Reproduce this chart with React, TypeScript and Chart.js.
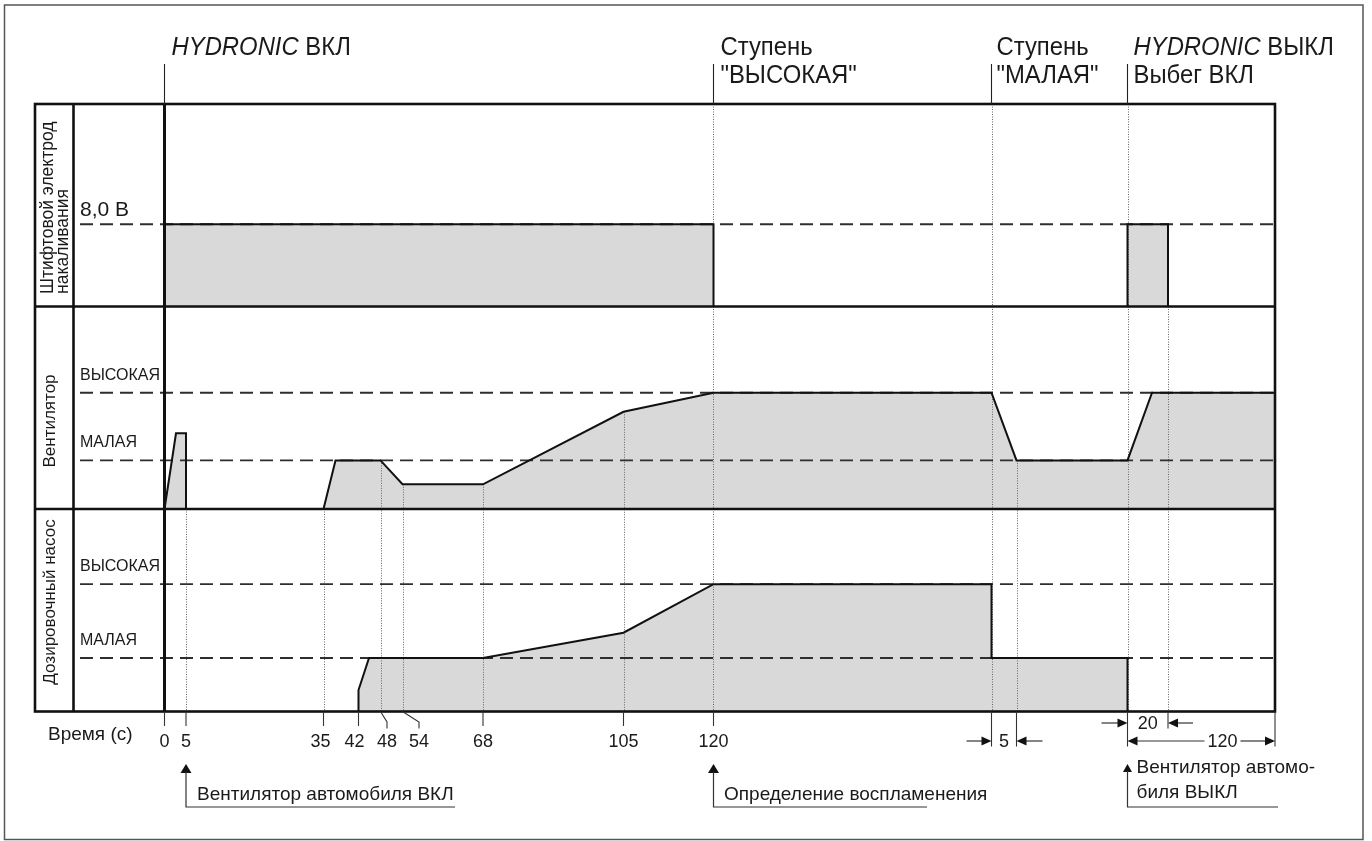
import React, { useEffect, useRef } from 'react';
import { Chart, registerables } from 'chart.js';

Chart.register(...registerables);

// ---- schematic (non-linear) time axis: tick labels and their axis positions ----
const tickLabels = ['0', '5', '35', '42', '48', '54', '68', '105', '120'];
const tickPos = [0, 21.5, 159, 194, 216, 238, 318.5, 459, 549];
const tickLabelShift = [0, 0, -3, -4, 6.5, 16.5, 0, 0, 0];
const tickHasLeader = [false, false, false, false, true, true, false, false, false];

// later events on the axis (after the break)
const posLowStage = 827;   // switch to "МАЛАЯ"
const posLowDone = 852;    // +5 s
const posOff = 963;        // HYDRONIC ВЫКЛ
const posGlowEnd = 1003.5; // +20 s
const posRunEnd = 1110.5;  // +120 s
const axisMin = -129.5;
const labelColumnPos = -91;
const levelLabelPos = -84.5;

// ---- series (level inside its own panel, 0 = panel floor) ----
const glowX = [0, 0, 549, 549];
const glowLevel = [0, 0.406, 0.406, 0];
const glowRunX = [963, 963, 1003.5, 1003.5];
const glowRunLevel = [0, 0.406, 0.406, 0];

const fanStartX = [0, 11.5, 21.5, 21.5];
const fanStartLevel = [0, 0.374, 0.374, 0];
const fanX = [159, 171, 216, 238, 318.5, 459, 549, 827, 852, 963, 987.5, 1110.5];
const fanLevel = [0, 0.24, 0.24, 0.122, 0.122, 0.48, 0.574, 0.574, 0.24, 0.24, 0.574, 0.574];

const pumpX = [194, 194, 204.5, 318.5, 459, 549, 827, 827, 963, 963];
const pumpLevel = [0, 0.106, 0.264, 0.264, 0.389, 0.629, 0.629, 0.264, 0.264, 0];

// panel floors and reference levels
const glowBase = 2;
const fanBase = 1;
const pumpBase = 0;
const glowRefLevels = [0.406];
const fanRefLevels = [0.574, 0.24];
const pumpRefLevels = [0.629, 0.264];
const glowRefLabels = ['8,0 В'];
const fanRefLabels = ['ВЫСОКАЯ', 'МАЛАЯ'];
const pumpRefLabels = ['ВЫСОКАЯ', 'МАЛАЯ'];

// dotted event markers: [position, from (y), to (y)]
const dottedMarks: [number, number, number][] = [
  [21.5, 1, 0],
  [159, 1, 0],
  [216, 1.24, 0],
  [238, 1.122, 0],
  [318.5, 1.122, 0],
  [459, 1.48, 0],
  [549, 3, 0],
  [827, 3, 0],
  [852, 1.24, 0],
  [963, 3, 0],
  [1003.5, 2, 0],
];

const FONT = '"Liberation Sans", Arial, Helvetica, sans-serif';
const INK = '#1a1a1a';

function txt(ctx: CanvasRenderingContext2D, s: string, x: number, y: number, size: number, align: CanvasTextAlign = 'left', italic = false, sx = 1) {
  ctx.save();
  ctx.translate(x, y);
  ctx.scale(sx, 1);
  ctx.font = `${italic ? 'italic ' : ''}${size}px ${FONT}`;
  ctx.fillStyle = INK;
  ctx.textAlign = align;
  ctx.textBaseline = 'alphabetic';
  ctx.fillText(s, 0, 0);
  ctx.restore();
}

function tw(ctx: CanvasRenderingContext2D, s: string, size: number, italic = false, sx = 1) {
  ctx.save();
  ctx.font = `${italic ? 'italic ' : ''}${size}px ${FONT}`;
  const w = ctx.measureText(s).width * sx;
  ctx.restore();
  return w;
}

function rtxt(ctx: CanvasRenderingContext2D, s: string, x: number, y: number, size: number, align: CanvasTextAlign) {
  ctx.save();
  ctx.translate(x, y);
  ctx.rotate(-Math.PI / 2);
  ctx.font = `${size}px ${FONT}`;
  ctx.fillStyle = INK;
  ctx.textAlign = align;
  ctx.textBaseline = 'middle';
  ctx.fillText(s, 0, 0);
  ctx.restore();
}

function line(ctx: CanvasRenderingContext2D, pts: number[][], w = 1.2, color = '#333') {
  ctx.save();
  ctx.strokeStyle = color;
  ctx.lineWidth = w;
  ctx.beginPath();
  ctx.moveTo(pts[0][0], pts[0][1]);
  for (let i = 1; i < pts.length; i++) ctx.lineTo(pts[i][0], pts[i][1]);
  ctx.stroke();
  ctx.restore();
}

// dir: 'r','l','u'
function head(ctx: CanvasRenderingContext2D, x: number, y: number, dir: string, len = 10, half = 4.5) {
  ctx.save();
  ctx.fillStyle = '#111';
  ctx.beginPath();
  ctx.moveTo(x, y);
  if (dir === 'r') { ctx.lineTo(x - len, y - half); ctx.lineTo(x - len, y + half); }
  if (dir === 'l') { ctx.lineTo(x + len, y - half); ctx.lineTo(x + len, y + half); }
  if (dir === 'u') { ctx.lineTo(x - half, y + len); ctx.lineTo(x + half, y + len); }
  ctx.closePath();
  ctx.fill();
  ctx.restore();
}

const CAP = 26.5;  // caption font size
const CAPX = 0.9;  // caption horizontal condensing

const diagramPlugin = {
  id: 'diagram',
  beforeDatasetsDraw(chart: any) {
    const ctx: CanvasRenderingContext2D = chart.ctx;
    const X = (v: number) => chart.scales.x.getPixelForValue(v);
    const Y = (v: number) => chart.scales.y.getPixelForValue(v);
    const { right } = chart.chartArea;
    // dotted markers
    ctx.save();
    ctx.strokeStyle = '#666';
    ctx.lineWidth = 1;
    ctx.setLineDash([1, 1.5]);
    dottedMarks.forEach(([p, a, b]) => {
      const x = Math.round(X(p)) + 0.5;
      ctx.beginPath();
      ctx.moveTo(x, Y(a));
      ctx.lineTo(x, Y(b));
      ctx.stroke();
    });
    ctx.restore();
    // dashed reference levels
    ctx.save();
    ctx.strokeStyle = '#2e2e2e';
    ctx.lineWidth = 1.9;
    ctx.setLineDash([13, 7]);
    const groups: [number, number[]][] = [[glowBase, glowRefLevels], [fanBase, fanRefLevels], [pumpBase, pumpRefLevels]];
    groups.forEach(([base, lv]) => {
      lv.forEach((l) => {
        const y = Y(base + l);
        ctx.beginPath();
        ctx.moveTo(X(levelLabelPos), y);
        ctx.lineTo(right, y);
        ctx.stroke();
      });
    });
    ctx.restore();
  },
  afterDatasetsDraw(chart: any) {
    const ctx: CanvasRenderingContext2D = chart.ctx;
    const X = (v: number) => chart.scales.x.getPixelForValue(v);
    const Y = (v: number) => chart.scales.y.getPixelForValue(v);
    const { left, right, top, bottom } = chart.chartArea;

    // outer frame
    ctx.save();
    ctx.strokeStyle = '#555';
    ctx.lineWidth = 1.5;
    ctx.strokeRect(4.5, 5, 1358.5, 834.5);
    ctx.restore();

    // box and separators
    ctx.save();
    ctx.strokeStyle = '#111';
    ctx.lineWidth = 2.6;
    ctx.strokeRect(left, top, right - left, bottom - top);
    [Y(2), Y(1)].forEach((y) => {
      ctx.beginPath(); ctx.moveTo(left, y); ctx.lineTo(right, y); ctx.stroke();
    });
    ctx.beginPath(); ctx.moveTo(X(labelColumnPos), top); ctx.lineTo(X(labelColumnPos), bottom); ctx.stroke();
    ctx.lineWidth = 3;
    ctx.beginPath(); ctx.moveTo(X(0), top); ctx.lineTo(X(0), bottom); ctx.stroke();
    ctx.restore();

    // thin event lines above the box
    [0, 549, posLowStage, posOff].forEach((p) => line(ctx, [[X(p), 64], [X(p), top]], 1.1, '#222'));

    // top captions
    const wH = tw(ctx, 'HYDRONIC', CAP, true, CAPX);
    txt(ctx, 'HYDRONIC', X(0) + 7, 55, CAP, 'left', true, CAPX);
    txt(ctx, ' ВКЛ', X(0) + 7 + wH, 55, CAP, 'left', false, CAPX);
    txt(ctx, 'Ступень', X(549) + 7, 55, CAP, 'left', false, CAPX);
    txt(ctx, '"ВЫСОКАЯ"', X(549) + 7, 83, CAP, 'left', false, CAPX);
    txt(ctx, 'Ступень', X(posLowStage) + 5, 55, CAP, 'left', false, CAPX);
    txt(ctx, '"МАЛАЯ"', X(posLowStage) + 5, 83, CAP, 'left', false, CAPX);
    txt(ctx, 'HYDRONIC', X(posOff) + 6, 55, CAP, 'left', true, CAPX);
    txt(ctx, ' ВЫКЛ', X(posOff) + 6 + wH, 55, CAP, 'left', false, CAPX);
    txt(ctx, 'Выбег ВКЛ', X(posOff) + 6, 83, CAP, 'left', false, CAPX);

    // level labels
    txt(ctx, glowRefLabels[0], X(levelLabelPos), Y(glowBase + glowRefLevels[0]) - 8, 21);
    fanRefLabels.forEach((s, i) => txt(ctx, s, X(levelLabelPos), Y(fanBase + fanRefLevels[i]) - 13, 16));
    pumpRefLabels.forEach((s, i) => txt(ctx, s, X(levelLabelPos), Y(pumpBase + pumpRefLevels[i]) - 13, 16));

    // rotated panel titles
    rtxt(ctx, 'Штифтовой электрод', 48.5, 294, 17.5, 'left');
    rtxt(ctx, 'накаливания', 63, 294, 17.5, 'left');
    rtxt(ctx, 'Вентилятор', 50, 421, 17, 'center');
    rtxt(ctx, 'Дозировочный насос', 50, 602, 17, 'center');

    // time axis
    txt(ctx, 'Время (с)', 48, 740, 19);
    tickPos.forEach((p, i) => {
      const x = X(p);
      const lx = x + tickLabelShift[i];
      if (tickHasLeader[i]) {
        line(ctx, [[x, bottom], [lx, bottom + 10.5], [lx, bottom + 17]], 1.1, '#333');
      } else {
        line(ctx, [[x, bottom], [x, bottom + 14.5]], 1.1, '#333');
      }
      txt(ctx, tickLabels[i], lx, 747, 18, 'center');
    });

    // callouts
    const callout = (p: number, endX: number, hl = 9, hh = 5.5) => {
      const x = X(p);
      head(ctx, x, 764, 'u', hl, hh);
      line(ctx, [[x, 764 + hl - 1], [x, 807], [endX, 807]], 1.2, '#333');
    };
    callout(tickPos[1], 455);
    txt(ctx, 'Вентилятор автомобиля ВКЛ', X(tickPos[1]) + 11, 800, 19);
    callout(tickPos[8], 927);
    txt(ctx, 'Определение воспламенения', X(tickPos[8]) + 10.5, 800, 19);
    callout(posOff, 1278, 8, 4.5);
    txt(ctx, 'Вентилятор автомо-', X(posOff) + 9, 773, 19);
    txt(ctx, 'биля ВЫКЛ', X(posOff) + 9, 798, 19);

    // dimension "5"
    const a = X(posLowStage), b = X(posLowDone);
    line(ctx, [[a, bottom], [a, bottom + 35]], 1.1, '#333');
    line(ctx, [[b, bottom], [b, bottom + 35]], 1.1, '#333');
    line(ctx, [[a - 25, 741], [a - 8, 741]], 1.2, '#333');
    head(ctx, a, 741, 'r');
    line(ctx, [[b + 8, 741], [b + 26, 741]], 1.2, '#333');
    head(ctx, b, 741, 'l');
    txt(ctx, '5', (a + b) / 2, 747, 18, 'center');

    // dimension "20"
    const c = X(posOff), d = X(posGlowEnd), e = X(posRunEnd);
    line(ctx, [[c, bottom], [c, bottom + 35]], 1.1, '#333');
    line(ctx, [[d, bottom], [d, bottom + 17]], 1.1, '#333');
    line(ctx, [[c - 26, 723], [c - 8, 723]], 1.2, '#333');
    head(ctx, c, 723, 'r');
    line(ctx, [[d + 8, 723], [d + 25, 723]], 1.2, '#333');
    head(ctx, d, 723, 'l');
    txt(ctx, '20', (c + d) / 2, 729, 18, 'center');

    // dimension "120"
    line(ctx, [[e, bottom], [e, bottom + 35]], 1.1, '#333');
    const tc = c + 95;
    line(ctx, [[c + 8, 741], [tc - 18, 741]], 1.2, '#333');
    line(ctx, [[tc + 18, 741], [e - 8, 741]], 1.2, '#333');
    head(ctx, c, 741, 'l');
    head(ctx, e, 741, 'r');
    txt(ctx, '120', tc, 747, 18, 'center');
  },
};

function series(xs: number[], lv: number[], base: number) {
  return {
    data: xs.map((x, i) => ({ x, y: base + lv[i] })),
    borderColor: '#111',
    borderWidth: 2,
    backgroundColor: '#d9d9d9',
    fill: { value: base },
    pointRadius: 0,
    tension: 0,
    borderJoinStyle: 'miter' as const,
    clip: false as const,
  };
}

export default function App() {
  const ref = useRef<HTMLCanvasElement>(null);
  useEffect(() => {
    const canvas = ref.current!;
    const chart = new Chart(canvas, {
      type: 'line',
      data: {
        datasets: [
          series(glowX, glowLevel, glowBase),
          series(glowRunX, glowRunLevel, glowBase),
          series(fanStartX, fanStartLevel, fanBase),
          series(fanX, fanLevel, fanBase),
          series(pumpX, pumpLevel, pumpBase),
        ] as any,
      },
      options: {
        responsive: false,
        animation: false,
        events: [],
        layout: { padding: { left: 35, right: 97, top: 104, bottom: 129.5 } },
        scales: {
          x: { type: 'linear', min: axisMin, max: posRunEnd, display: false },
          y: { type: 'linear', min: 0, max: 3, display: false },
        },
        plugins: {
          legend: { display: false },
          tooltip: { enabled: false },
          filler: { drawTime: 'beforeDatasetsDraw' } as any,
        },
      } as any,
      plugins: [diagramPlugin],
    });
    return () => chart.destroy();
  }, []);
  return (
    <div style={{ position: 'fixed', left: 0, top: 0, width: 1372, height: 841, background: '#fff' }}>
      <canvas ref={ref} width={1372} height={841} style={{ display: 'block', width: 1372, height: 841 }} />
    </div>
  );
}
